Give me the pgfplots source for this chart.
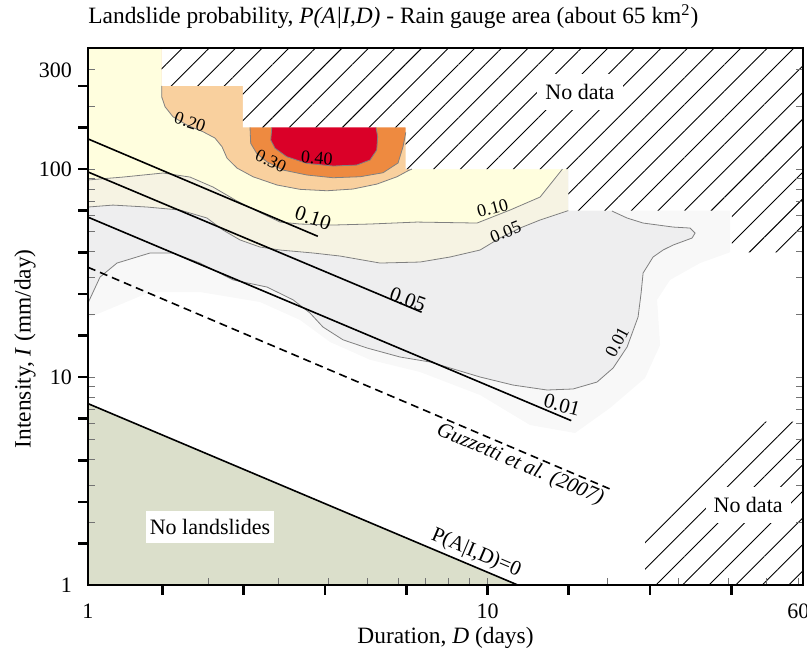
\documentclass[border=0pt]{standalone}
\usepackage{fontspec}
\setmainfont{Liberation Serif}
\usepackage{pgfplots}
\pgfplotsset{compat=1.18}
\usetikzlibrary{patterns.meta}

\definecolor{halo}{HTML}{F8F8F8}
\definecolor{grayreg}{HTML}{EEEEEF}
\definecolor{cream}{HTML}{F6F3E3}
\definecolor{paleyellow}{HTML}{FFFEDE}
\definecolor{lightorange}{HTML}{F9D09E}
\definecolor{midorange}{HTML}{EE8A40}
\definecolor{deepred}{HTML}{DA0028}
\definecolor{noslide}{HTML}{DBDFCB}

\tikzset{
  contour/.style={draw=black!50, line width=0.4pt},
  threshold/.style={black, line width=0.8pt},
  nodata/.style={draw=none, pattern={Lines[angle=45,distance=9.4pt,line width=0.45pt]}, pattern color=black, preaction={fill=white}},
  clab/.style={font=\fontsize{9}{10}\selectfont, inner sep=0.5pt},
  llab/.style={font=\fontsize{10.5}{12}\selectfont, inner sep=0.5pt},
}

\begin{document}
\begin{tikzpicture}
\begin{axis}[
  xmode=log, ymode=log,
  scale only axis, width=357.5pt, height=268.5pt,
  xmin=1, xmax=61.6, ymin=1, ymax=382,
  axis on top,
  axis line style={line width=0.8pt},
  xtick={1,10,60}, xticklabels={1,10,60},
  ytick={1,10,100,300}, yticklabels={1,10,100,300},
  minor xtick={2,3,4,5,6,7,8,9,20,30,40,50},
  minor ytick={2,3,4,5,6,7,8,9,20,30,40,50,60,70,80,90,200},
  xtick pos=bottom, ytick pos=left,
  tick align=inside,
  major tick length=3.5pt, minor tick length=3.5pt,
  tick style={black!55, line width=0.4pt},
  extra x ticks={1.535,2.453,3.917,6.259,10,15.97,25.52,40.77},
  extra x tick labels={},
  extra x tick style={tick align=outside, major tick length=5pt, tick style={black, line width=1.3pt}},
  extra y ticks={1.585,2.512,3.981,6.310,10,15.85,25.12,39.81,63.10,100,158.5,251.2},
  extra y tick labels={},
  extra y tick style={tick align=outside, major tick length=5pt, tick style={black, line width=1.3pt}},
  tick label style={font=\fontsize{11}{13}\selectfont},
  xticklabel style={yshift=-6pt},
  yticklabel style={xshift=-4.5pt},
  xlabel={Duration, \textit{D} (days)},
  ylabel={Intensity, \textit{I} (mm/day)},
  label style={font=\fontsize{11.7}{14}\selectfont},
  xlabel style={at={(axis description cs:0.5,-0.0987)}, anchor=center},
  ylabel style={at={(axis description cs:-0.088,0.44)}, anchor=center},
  title={Landslide probability, \textit{P(A|I,D)} - Rain gauge area (about 65 km\textsuperscript{2})},
  title style={at={(axis description cs:0,1)}, anchor=base west, inner sep=0pt, yshift=6pt, font=\fontsize{11.7}{14}\selectfont},
]
\coordinate (bl) at (rel axis cs:0,0);
\coordinate (tr) at (rel axis cs:1,1);

% probability bands, lowest first
\addplot[draw=none, fill=halo] coordinates {(1,382) (1,19.22) (1.430,25.62) (1.907,25.62) (2.695,22.94) (3.394,18.8) (4.034,14.74) (5.080,12.1) (6.777,10.57) (9.58,8.19) (12.78,5.875) (16.56,5.38) (20.26,7.10) (24.79,9.89) (27.03,14.25) (26.57,23.5) (28.63,29.3) (34.04,35.32) (40.46,39.8) (40.46,382)} -- cycle;

\addplot[draw=none, fill=grayreg] coordinates {(1,382) (1,22.69) (1.072,30.25) (1.182,35.32) (1.430,39.48) (1.632,39.48) (1.907,35.32) (2.307,29.3) (2.806,27.08) (3.261,23.5) (3.595,20.31) (3.875,17.39) (4.347,15.1) (4.993,13.79) (6.039,12.48) (7.179,11.81) (9.58,10) (11.58,9.15) (14.09,8.66) (16.37,8.76) (18.80,9.46) (20.62,11.05) (22.35,13.94) (23.81,19.43) (24.23,25.34) (24.51,31.62) (25.96,37.76) (27.50,40.8) (29.13,43.1) (32.51,46.59) (33.07,49.24) (32.13,52.03) (29.13,52.61) (24.51,55.0) (22.35,58.14) (20.49,62.8) (20.49,382)} -- cycle;

\addplot[draw=none, fill=cream] coordinates {(1,382) (1,65.67) (1.155,67.1) (1.405,65.67) (1.700,63.5) (1.986,58.14) (2.177,50.9) (2.402,45.6) (2.695,42.17) (3.024,40.8) (3.658,39.48) (4.274,38.17) (5.382,35.32) (6.777,35.72) (8.056,37.76) (9.58,40.8) (10.74,46.59) (12.06,52.03) (13.54,56.9) (15.93,63.1) (15.93,382)} -- cycle;

\addplot[draw=none, fill=paleyellow] coordinates {(1,382) (1,88.6) (1.224,91.5) (1.541,95.7) (1.800,91.5) (2.055,81.96) (2.360,70.2) (2.649,62.8) (3.024,55.6) (3.394,54.4) (4.105,53.8) (5.080,54.4) (6.662,55.6) (9.413,55.0) (11.38,63.5) (13.54,73.35) (15.19,96.7) (15.93,100) (15.93,382)} -- cycle;

\addplot[draw=none, fill=lightorange] coordinates {(1.529,248.7) (1.529,222.6) (1.559,199.3) (1.632,178.4) (1.769,162.7) (1.941,151.1) (2.079,140.9) (2.165,128.0) (2.228,112.9) (2.360,101.1) (2.588,91.83) (2.972,83.8) (3.394,79.88) (3.965,78.65) (4.605,80.14) (5.289,84.7) (5.935,91.83) (6.324,98.1) (6.471,100) (6.471,382) (1.529,382)} -- cycle;

\addplot[draw=none, fill=midorange] coordinates {(2.544,156.9) (2.554,132.9) (2.644,119.0) (2.802,108.4) (3.077,98.9) (3.533,93.6) (4.105,90.83) (4.796,91.83) (5.475,95.98) (5.970,106.9) (6.144,128.0) (6.215,143.0) (6.3,160) (6.3,382) (2.544,382)} -- cycle;

\addplot[draw=none, fill=deepred] coordinates {(2.884,156.9) (2.867,137.8) (2.939,125.8) (3.144,114.6) (3.527,106.5) (4.105,103.4) (4.705,104.5) (5.080,110.5) (5.28,123.4) (5.31,143.0) (5.259,156.9) (5.259,382) (2.884,382)} -- cycle;

% no landslides below the zero-probability line
\addplot[draw=none, fill=noslide] coordinates {(1,1) (1,7.45) (11.9,1)} -- cycle;

% areas without data
\addplot[nodata] coordinates {(1.529,382) (1.529,251.2) (2.44,251.2) (2.44,158.5) (6.24,158.5) (6.24,100) (15.93,100) (15.93,63.1) (40.87,63.1) (40.87,39.8) (61.6,39.8) (61.6,382)} -- cycle;
\addplot[nodata] coordinates {(24.79,1) (24.79,2.05) (44.55,6.10) (61.6,6.10) (61.6,1)} -- cycle;

% contour lines
\addplot[contour] coordinates {(1,22.69) (1.072,30.25) (1.182,35.32) (1.430,39.48) (1.632,39.48) (1.907,35.32) (2.307,29.3) (2.806,27.08) (3.261,23.5) (3.595,20.31) (3.875,17.39) (4.347,15.1) (4.993,13.79) (6.039,12.48) (7.179,11.81) (9.58,10) (11.58,9.15) (14.09,8.66) (16.37,8.76) (18.80,9.46) (20.62,11.05) (22.35,13.94) (23.81,19.43) (24.23,25.34) (24.51,31.62) (25.96,37.76) (27.50,40.8) (29.13,43.1) (32.51,46.59) (33.07,49.24) (32.13,52.03) (29.13,52.61) (24.51,55.0) (22.35,58.14) (20.49,62.8)};
\addplot[contour] coordinates {(1,65.67) (1.155,67.1) (1.405,65.67) (1.700,63.5) (1.986,58.14) (2.177,50.9) (2.402,45.6) (2.695,42.17) (3.024,40.8) (3.658,39.48) (4.274,38.17) (5.382,35.32) (6.777,35.72) (8.056,37.76) (9.58,40.8) (10.74,46.59) (12.06,52.03) (13.54,56.9) (15.93,63.1)};
\addplot[contour] coordinates {(1,88.6) (1.224,91.5) (1.541,95.7) (1.800,91.5) (2.055,81.96) (2.360,70.2) (2.649,62.8) (3.024,55.6) (3.394,54.4) (4.105,53.8) (5.080,54.4) (6.662,55.6) (9.413,55.0) (11.38,63.5) (13.54,73.35) (15.19,96.7) (15.4,100)};
\addplot[contour] coordinates {(1.529,251.2) (1.529,222.6) (1.559,199.3) (1.632,178.4) (1.769,162.7) (1.941,151.1) (2.079,140.9) (2.165,128.0) (2.228,112.9) (2.360,101.1) (2.588,91.83) (2.972,83.8) (3.394,79.88) (3.965,78.65) (4.605,80.14) (5.289,84.7) (5.935,91.83) (6.324,98.1) (6.471,100)};
\addplot[contour] coordinates {(2.544,158.5) (2.554,132.9) (2.644,119.0) (2.802,108.4) (3.077,98.9) (3.533,93.6) (4.105,90.83) (4.796,91.83) (5.475,95.98) (5.970,106.9) (6.144,128.0) (6.215,143.0) (6.24,150)};
\addplot[contour] coordinates {(2.884,158.5) (2.867,137.8) (2.939,125.8) (3.144,114.6) (3.527,106.5) (4.105,103.4) (4.705,104.5) (5.080,110.5) (5.28,123.4) (5.31,143.0) (5.259,158.5)};

% probability thresholds
\addplot[threshold] coordinates {(1,139.6) (3.76,47.5)};
\addplot[threshold] coordinates {(1,96.8) (6.84,20.5)};
\addplot[threshold] coordinates {(1,58.7) (16.2,6.17)};
\addplot[threshold, dash pattern=on 4pt off 2.5pt] coordinates {(1,33.7) (20.2,2.90)};
\addplot[threshold] coordinates {(1,7.45) (11.9,1)};

% labels
\node[clab, rotate=-18] at (axis cs:1.80,168) {0.20};
\node[clab, rotate=-25] at (axis cs:2.87,109) {0.30};
\node[clab, rotate=-5] at (axis cs:3.74,113) {0.40};
\node[clab, rotate=15] at (axis cs:10.3,64.9) {0.10};
\node[clab, rotate=22] at (axis cs:11.1,49.8) {0.05};
\node[clab, rotate=62] at (axis cs:21.1,14.7) {0.01};
\node[llab, rotate=-18] at (axis cs:3.66,58.1) {0.10};
\node[llab, rotate=-20] at (axis cs:6.32,23.5) {0.05};
\node[llab, rotate=-15] at (axis cs:15.37,7.33) {0.01};
\node[llab, rotate=-23, font=\fontsize{10.5}{12}\selectfont\itshape] at (axis cs:12.06,3.78) {Guzzetti et al. (2007)};
\node[llab, rotate=-23] at (axis cs:9.36,1.42) {P(A|I,D)=0};
\node[fill=white, inner xsep=2pt, inner ysep=4pt, font=\fontsize{11}{13}\selectfont] at (axis cs:2.02,1.90) {No landslides};
\node[fill=white, inner xsep=4pt, inner ysep=5pt, font=\fontsize{11}{13}\selectfont] at (axis cs:17.04,234.6) {No data};
\node[fill=white, inner xsep=4pt, inner ysep=5pt, font=\fontsize{11}{13}\selectfont] at (axis cs:44.9,2.42) {No data};
\end{axis}

% inner ticks along the right border
\begin{axis}[
  xmode=log, ymode=log,
  scale only axis, width=357.5pt, height=268.5pt,
  xmin=1, xmax=61.6, ymin=1, ymax=382,
  hide x axis,
  axis y line*=right,
  axis line style={line width=0.8pt},
  ytick={10,100}, yticklabels={},
  minor ytick={2,3,4,5,6,7,8,9,20,30,40,50,60,70,80,90,200,300},
  tick align=inside,
  major tick length=3.5pt, minor tick length=3.5pt,
  tick style={black!55, line width=0.4pt},
]
\end{axis}

\pgfresetboundingbox
\path ([xshift=-44pt,yshift=-35.5pt]bl) rectangle ([xshift=2pt,yshift=24pt]tr);
\end{tikzpicture}
\end{document}
